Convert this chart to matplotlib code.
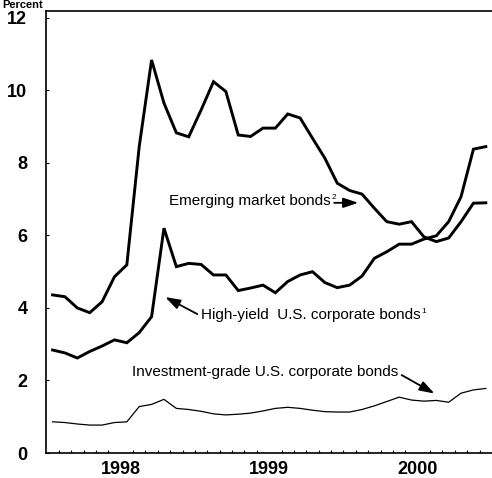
"""Spreads on emerging market and U.S. corporate bonds, 1998-2000."""

import matplotlib
matplotlib.use("Agg")
import matplotlib.pyplot as plt
import numpy as np

# monthly observations, Jan 1998 .. Dec 2000
months = np.arange(36)
year_labels = ["1998", "1999", "2000"]

emerging = [4.36, 4.31, 4.00, 3.87, 4.17, 4.86, 5.19, 8.45, 10.84, 9.65, 8.83, 8.72,
            9.46, 10.24, 9.97, 8.77, 8.73, 8.96, 8.96, 9.35, 9.24, 8.68, 8.13, 7.44,
            7.24, 7.14, 6.75, 6.38, 6.31, 6.38, 5.96, 5.83, 5.93, 6.38, 6.89, 6.90]
high_yield = [2.84, 2.76, 2.62, 2.80, 2.95, 3.12, 3.04, 3.32, 3.76, 6.20, 5.14, 5.23,
              5.20, 4.91, 4.91, 4.48, 4.55, 4.63, 4.42, 4.73, 4.91, 5.00, 4.70, 4.56,
              4.63, 4.88, 5.37, 5.55, 5.76, 5.76, 5.90, 5.99, 6.38, 7.07, 8.38, 8.45]
inv_grade = [0.86, 0.84, 0.80, 0.77, 0.77, 0.84, 0.86, 1.28, 1.34, 1.48, 1.23, 1.20,
             1.15, 1.08, 1.05, 1.07, 1.10, 1.16, 1.23, 1.26, 1.23, 1.18, 1.14, 1.13,
             1.13, 1.20, 1.30, 1.42, 1.54, 1.46, 1.43, 1.45, 1.40, 1.65, 1.74, 1.78]

plt.rcParams["font.family"] = ["Liberation Sans", "DejaVu Sans"]

fig = plt.figure(figsize=(4.92, 4.78), dpi=100)
ax = fig.add_axes([46 / 492, 1 - 453 / 478, 1 - 46 / 492, (453 - 11) / 478])

ax.plot(months, emerging, color="black", lw=2.1, solid_joinstyle="miter")
ax.plot(months, high_yield, color="black", lw=2.1, solid_joinstyle="miter")
ax.plot(months, inv_grade, color="black", lw=0.9)

ax.set_xlim(-0.53, 35.0)
ax.set_ylim(0, 12.19)

ax.spines["right"].set_visible(False)
for s in ("left", "bottom", "top"):
    ax.spines[s].set_linewidth(1.2)

ax.set_yticks(np.arange(0, 13, 2))
ax.set_yticklabels([str(v) for v in range(0, 13, 2)], fontsize=13, fontweight="bold")
ax.set_xticks(np.arange(len(year_labels)) * 12 + 5.5)
ax.set_xticklabels(year_labels, fontsize=13, fontweight="bold")
ax.set_xticks(np.arange(36) + 0.5, minor=True)
ax.tick_params(axis="x", which="major", length=0, pad=5.5)
ax.tick_params(axis="x", which="minor", direction="in", length=2.5, width=0.8)
ax.tick_params(axis="y", direction="in", length=2.5, width=0.8, pad=13.5)

# unit label squeezed into the top margin
fig.text(0.005, 0.999, "Percent", fontsize=8, fontweight="bold",
         ha="left", va="top")

arrow = dict(arrowstyle="-|>,head_length=0.9,head_width=0.3", color="black",
             lw=1.3, shrinkA=0, shrinkB=0)


def label(x, y, text, note=None):
    t = ax.text(x, y, text, va="center", ha="left", fontsize=11)
    if note:
        ax.annotate(note, xy=(1, 1), xycoords=t, xytext=(0.5, 0),
                    textcoords="offset points", va="top", ha="left", fontsize=6)


label(9.4, 6.95, "Emerging market bonds", "2")
ax.annotate("", xy=(24.7, 6.9), xytext=(22.75, 6.9), arrowprops=arrow)

label(12.0, 3.81, "High-yield  U.S. corporate bonds", "1")
ax.annotate("", xy=(9.1, 4.3), xytext=(11.7, 3.83), arrowprops=arrow)

label(6.4, 2.24, "Investment-grade U.S. corporate bonds")
ax.annotate("", xy=(30.85, 1.64), xytext=(28.2, 2.15), arrowprops=arrow)

fig.savefig("out.png", dpi=100)
